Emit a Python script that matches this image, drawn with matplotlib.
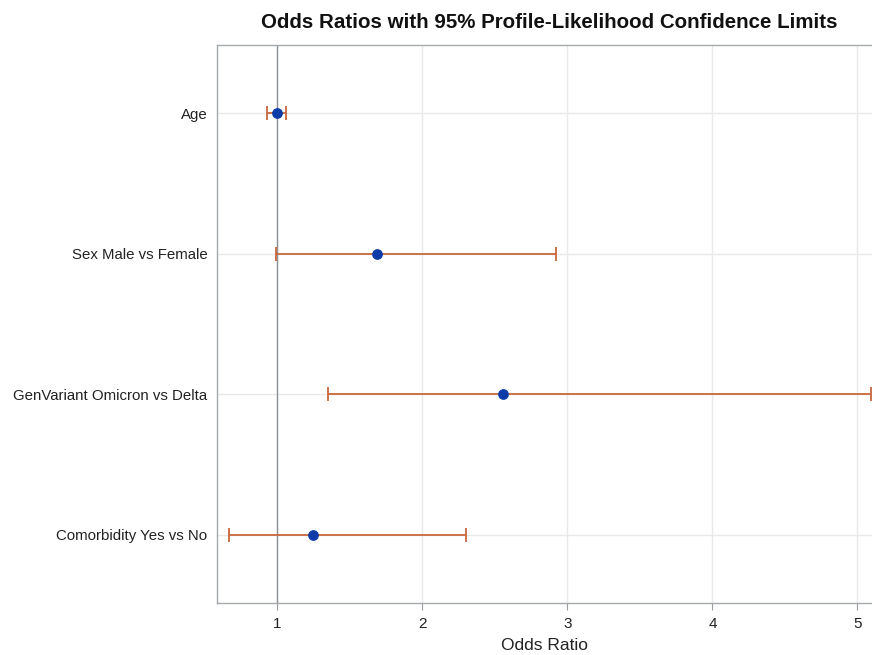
import matplotlib.pyplot as plt
import numpy as np

plt.rcParams['font.family'] = ['Liberation Sans', 'DejaVu Sans']

effects = ['Age', 'Sex Male vs Female', 'GenVariant Omicron vs Delta', 'Comorbidity Yes vs No']
odds_ratio = [1.00, 1.69, 2.56, 1.25]
lower_cl = [0.93, 0.99, 1.35, 0.67]
upper_cl = [1.06, 2.92, 5.09, 2.30]
xticks = [1, 2, 3, 4, 5]

fig = plt.figure(figsize=(8.72, 6.55), dpi=100)
ax = fig.add_axes([0.2489, 0.0794, 0.7511, 0.8519])

y = np.arange(len(effects))
err = [np.array(odds_ratio) - np.array(lower_cl), np.array(upper_cl) - np.array(odds_ratio)]

ax.axvline(1, color='#8c9196', lw=1.0, zorder=2)
ax.errorbar(odds_ratio, y, xerr=err, fmt='none', ecolor='#c8673d', elinewidth=1.3,
            capsize=5, capthick=1.3, zorder=3, clip_on=False)
ax.scatter(odds_ratio, y, s=45, color='#0d3ba8', zorder=4)

ax.set_xlim(0.586, 5.1)
ax.set_ylim(3.486, -0.486)
ax.set_yticks(y)
ax.set_yticklabels(effects, fontsize=10.8)
ax.set_xticks(xticks)
ax.set_xticklabels([str(t) for t in xticks], fontsize=11)
ax.tick_params(axis='y', length=0, pad=7, colors='#222222')
ax.tick_params(axis='x', length=5, width=0.8, color='#9a9ea3', pad=5, colors='#222222')

ax.grid(True, color='#e9e9e9', lw=1.0, zorder=0)
ax.set_axisbelow(True)
for side in ['left', 'bottom', 'top']:
    ax.spines[side].set_color('#a5a9ad')
    ax.spines[side].set_linewidth(1.0)
ax.spines['right'].set_visible(False)

ax.set_xlabel('Odds Ratio', fontsize=12.5, labelpad=5, color='#222222')
fig.text(0.630, 0.966, 'Odds Ratios with 95% Profile-Likelihood Confidence Limits',
         ha='center', va='center', fontsize=14.8, fontweight='bold', color='#111111')

fig.savefig('out.png', dpi=100)
